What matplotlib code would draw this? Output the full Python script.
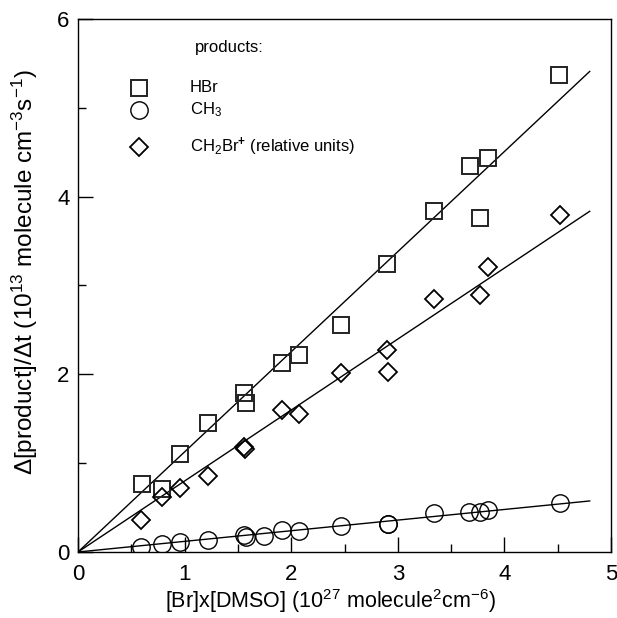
import matplotlib
matplotlib.use("Agg")
import matplotlib.pyplot as plt
import numpy as np

plt.rcParams['font.family'] = ['Liberation Sans', 'DejaVu Sans']
plt.rcParams['mathtext.fontset'] = 'custom'
plt.rcParams['mathtext.rm'] = 'Liberation Sans'
plt.rcParams['mathtext.it'] = 'Liberation Sans:italic'
plt.rcParams['mathtext.bf'] = 'Liberation Sans:bold'

# HBr (squares)
hbr_x = [0.598, 0.79, 0.957, 1.22, 1.56, 1.576, 1.916, 2.076, 2.464, 2.902, 3.343, 3.677, 3.771, 3.843, 4.515]
hbr_y = [0.762, 0.706, 1.10, 1.45, 1.79, 1.674, 2.13, 2.218, 2.555, 3.242, 3.84, 4.35, 3.757, 4.44, 5.37]

# CH3 (circles)
ch3_x = [0.591, 0.785, 0.957, 1.22, 1.56, 1.576, 1.745, 1.91, 2.073, 2.464, 2.905, 2.91, 3.343, 3.668, 3.771, 3.843, 4.52]
ch3_y = [0.053, 0.09, 0.116, 0.135, 0.19, 0.17, 0.184, 0.248, 0.24, 0.296, 0.32, 0.31, 0.44, 0.446, 0.454, 0.473, 0.555]

# CH2Br+ (diamonds)
ch2br_x = [0.591, 0.785, 0.957, 1.222, 1.56, 1.57, 1.91, 2.073, 2.464, 2.902, 2.91, 3.343, 3.771, 3.843, 4.52]
ch2br_y = [0.36, 0.616, 0.724, 0.859, 1.18, 1.16, 1.60, 1.55, 2.02, 2.274, 2.03, 2.845, 2.893, 3.205, 3.79]

# linear fits through origin
fit_x = np.array([0.0, 4.8])
slope_hbr = 1.127
slope_ch2br = 0.799
slope_ch3 = 0.1197

legend_labels = ['HBr', 'CH$_3$', 'CH$_2$Br$^{\\mathbf{+}}$ (relative units)']

fig = plt.figure(figsize=(6.17, 6.18), dpi=100)
ax = fig.add_axes([0.1264, 0.1068, 0.8639, 0.8625])

ax.plot(fit_x, slope_hbr * fit_x, color='black', lw=1.0)
ax.plot(fit_x, slope_ch2br * fit_x, color='black', lw=1.0)
ax.plot(fit_x, slope_ch3 * fit_x, color='black', lw=1.0)

sq = dict(linestyle='none', marker='s', ms=11.5, mfc='none', mec='#222222', mew=1.4)
ci = dict(linestyle='none', marker='o', ms=12.5, mfc='none', mec='black', mew=1.0)
di = dict(linestyle='none', marker='D', ms=9, mfc='none', mec='black', mew=1.3)

ax.plot(hbr_x, hbr_y, **sq)
ax.plot(ch3_x, ch3_y, **ci)
ax.plot(ch2br_x, ch2br_y, **di)

ax.set_xlim(0, 5)
ax.set_ylim(0, 6)
ax.set_xticks([0, 1, 2, 3, 4, 5])
ax.set_xticks([0.5, 1.5, 2.5, 3.5, 4.5], minor=True)
ax.set_yticks([0, 2, 4, 6])
ax.set_yticks([1, 3, 5], minor=True)
ax.tick_params(which='major', direction='in', length=11, width=1.0, labelsize=16)
ax.tick_params(axis='x', which='major', pad=9)
ax.tick_params(axis='y', which='major', pad=6)
ax.tick_params(which='minor', direction='in', length=5.5, width=1.0)
for s in ax.spines.values():
    s.set_linewidth(1.0)

ax.set_xlabel('[Br]x[DMSO] (10$^{27}$ molecule$^{2}$cm$^{-6}$)', fontsize=15.5)
ax.xaxis.set_label_coords(0.474, -0.066)
ax.set_ylabel('Δ[product]/Δt (10$^{13}$ molecule cm$^{-3}$s$^{-1}$)', fontsize=17.5)
ax.yaxis.set_label_coords(-0.072, 0.525)

# legend drawn manually in axes coordinates
ax.text(0.22, 0.946, 'products:', transform=ax.transAxes, fontsize=12, va='center', ha='left')
leg_y = [0.8705, 0.829, 0.76]
for style, lab, yy in zip([sq, ci, di], legend_labels, leg_y):
    ax.plot([0.1144], [yy], transform=ax.transAxes, clip_on=False, **style)
    ax.text(0.21, yy, lab, transform=ax.transAxes, fontsize=12, va='center', ha='left')

fig.savefig('out.png', dpi=100)
